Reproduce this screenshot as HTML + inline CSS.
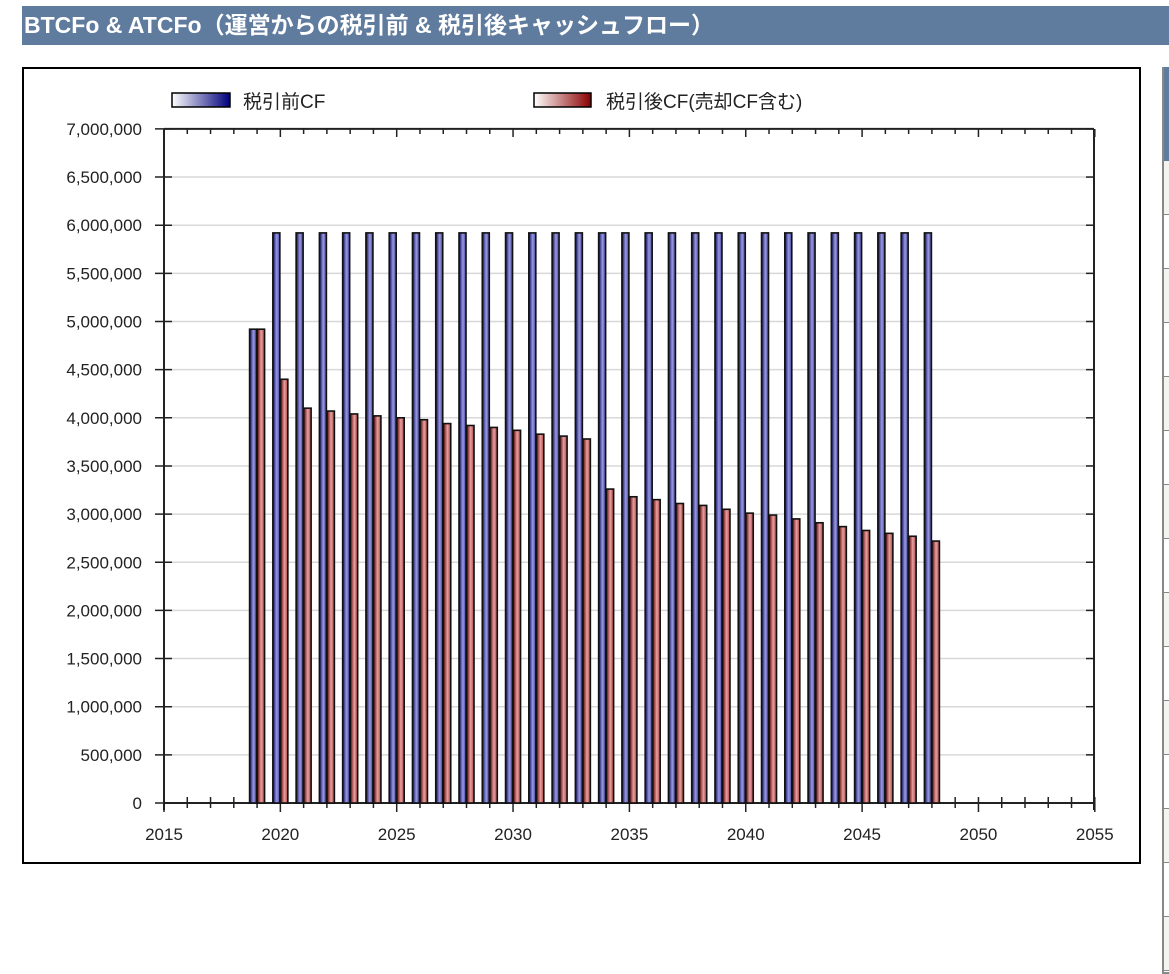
<!DOCTYPE html>
<html><head><meta charset="utf-8"><style>
body{margin:0;width:1169px;height:974px;background:#fff;overflow:hidden;position:relative;font-family:"Liberation Sans","Noto Sans CJK JP",sans-serif}
#hdr{position:absolute;left:22px;top:6px;width:1147px;height:39px;background:#5f7b9e;color:#fff;font-weight:bold;font-size:23px;line-height:39px;padding-left:2px;box-sizing:border-box;white-space:nowrap}
#tbl{position:absolute;left:1162px;top:67px;width:20px;height:905px;border-left:2px solid #888;border-bottom:2px solid #888;background:#fff}
</style></head><body>
<div id="hdr">BTCFo &amp; ATCFo（運営からの税引前 &amp; 税引後キャッシュフロー）</div>
<div id="tbl"></div>
<svg id="s" width="1169" height="974" style="position:absolute;left:0;top:0">
<defs>
<linearGradient id="gb" x1="0" x2="1"><stop offset="0" stop-color="#fff"/><stop offset="1" stop-color="#00007a"/></linearGradient>
<linearGradient id="gr" x1="0" x2="1"><stop offset="0" stop-color="#fff"/><stop offset="1" stop-color="#8a0000"/></linearGradient>
<linearGradient id="bb" x1="0" x2="1"><stop offset="0" stop-color="#000"/><stop offset="0.2" stop-color="#3c3c90"/><stop offset="0.55" stop-color="#9a9ae0"/><stop offset="1" stop-color="#4040a0"/></linearGradient>
<linearGradient id="br" x1="0" x2="1"><stop offset="0" stop-color="#000"/><stop offset="0.2" stop-color="#903838"/><stop offset="0.55" stop-color="#e8a0a0"/><stop offset="1" stop-color="#a84040"/></linearGradient>
</defs>
<rect x="23" y="68" width="1117" height="795" fill="#fff" stroke="#000" stroke-width="2"/>
<rect x="172" y="93" width="58" height="14" fill="url(#gb)" stroke="#000" stroke-width="1.5"/>
<text x="243" y="108" font-size="19" fill="#222">税引前CF</text>
<rect x="534" y="93" width="57" height="14" fill="url(#gr)" stroke="#000" stroke-width="1.5"/>
<text x="606" y="108" font-size="19" fill="#222">税引後CF(売却CF含む)</text>
<g id="g"></g>
</svg>
<script>
var g=document.getElementById('g'),h='';
var Y0=803,S=96.3,X0=164,D=23.27;
for(var i=0;i<=14;i++){var y=Y0-i*48.15;h+='<line x1="164" x2="1094" y1="'+y+'" y2="'+y+'" stroke="'+(i==0||i==14?'#222':'#d8d8d8')+'" stroke-width="'+(i==0||i==14?2:1.5)+'"/>';
h+='<line x1="155" x2="172" y1="'+y+'" y2="'+y+'" stroke="#222" stroke-width="1.5"/><line x1="1086" x2="1094" y1="'+y+'" y2="'+y+'" stroke="#222" stroke-width="1.5"/>';
var v=(i*500000).toLocaleString('en-US');h+='<text x="142" y="'+(y+6)+'" font-size="17" text-anchor="end" fill="#222">'+v+'</text>';}
for(var k=0;k<=40;k++){var x=X0+k*D;var m=k%5==0;
h+='<line x1="'+x+'" x2="'+x+'" y1="'+(Y0-6)+'" y2="'+(Y0+(m?9:5))+'" stroke="#222" stroke-width="1.5"/>';
h+='<line x1="'+x+'" x2="'+x+'" y1="129" y2="'+(m?137:134)+'" stroke="#222" stroke-width="1.5"/>';
if(m)h+='<text x="'+x+'" y="840" font-size="17" text-anchor="middle" fill="#222">'+(2015+k)+'</text>';}
h+='<line x1="164" x2="164" y1="129" y2="810" stroke="#222" stroke-width="2"/><line x1="1094" x2="1094" y1="129" y2="810" stroke="#222" stroke-width="2"/>';
var at=[4.92,4.40,4.10,4.07,4.04,4.02,4.00,3.98,3.94,3.92,3.90,3.87,3.83,3.81,3.78,3.26,3.18,3.15,3.11,3.09,3.05,3.01,2.99,2.95,2.91,2.87,2.83,2.80,2.77,2.72];
for(var j=0;j<30;j++){var x=X0+(4+j)*D;var bt=j==0?4.92:5.92;
var yb=Y0-bt*S,yr=Y0-at[j]*S;
h+='<rect x="'+(x-7.5)+'" y="'+yb+'" width="7" height="'+(Y0-yb)+'" fill="url(#bb)" stroke="#111" stroke-width="1.6"/>';
h+='<rect x="'+(x)+'" y="'+yr+'" width="7.5" height="'+(Y0-yr)+'" fill="url(#br)" stroke="#111" stroke-width="1.6"/>';}
g.innerHTML=h;
var t=document.getElementById('tbl'),r='<div style="height:94px;background:#5f7b9e"></div>';
for(var n=0;n<15;n++)r+='<div style="height:53px;border-bottom:1.5px solid #888;background:'+(n%2==0?'#f5f3ef':'#fff')+'"></div>';
t.innerHTML=r;
</script>
</body></html>
